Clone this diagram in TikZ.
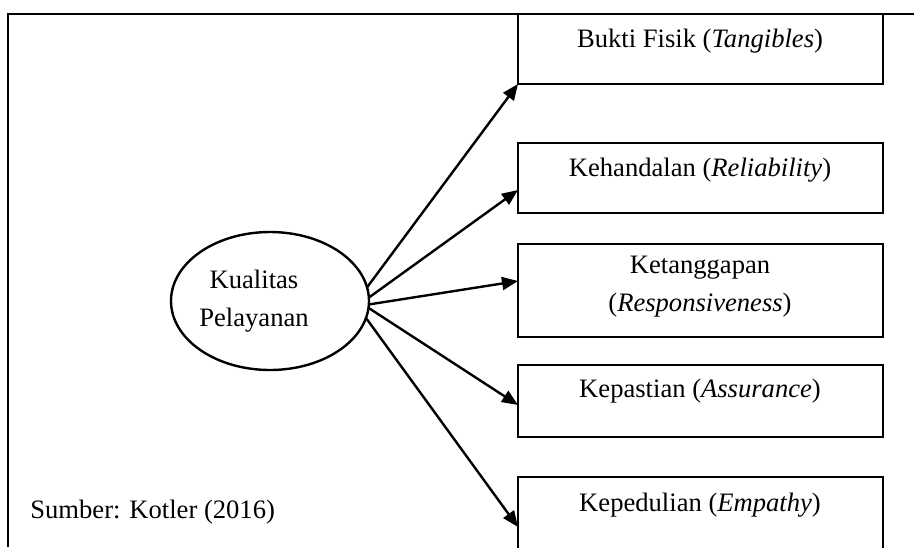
\documentclass[tikz,border=0pt]{standalone}
\usepackage{fontspec}
\setmainfont{Liberation Serif}
\usetikzlibrary{arrows.meta,calc,shapes.geometric}
\begin{document}
\begin{tikzpicture}[x=0.5pt,y=-0.5pt,
  box/.style={draw,line width=1.4pt,rectangle,inner sep=0pt,outer sep=0pt,
    anchor=north west,minimum width=182.5pt},
  lbl/.style={font=\fontsize{13.3}{19}\selectfont,align=center,inner sep=0pt},
  conn/.style={line width=1.2pt,-{Triangle[length=8pt,width=6.5pt]}},
]
\useasboundingbox (0,0) rectangle (914,547);
\clip (0,0) rectangle (914,547);
% outer frame (left and top edges)
\draw[line width=0.7pt] (8,547) -- (8,14) -- (914,14);
% dimension boxes
\node[box,minimum height=35pt] (b1) at (518,14) {};
\node[box,minimum height=35pt] (b2) at (518,143) {};
\node[box,minimum height=46.5pt] (b3) at (518,244) {};
\node[box,minimum height=36pt] (b4) at (518,365) {};
\node[box,minimum height=50pt] (b5) at (518,477) {};
% box texts
\node[lbl] (t1) at (700,41) {Bukti Fisik (\textit{Tangibles})};
\node[lbl] (t2) at (700,170) {Kehandalan (\textit{Reliability})};
\node[lbl] (t3) at (700,287) {Ketanggapan\\(\textit{Responsiveness})};
\node[lbl] (t4) at (700,391) {Kepastian (\textit{Assurance})};
\node[lbl] (t5) at (700,505) {Kepedulian (\textit{Empathy})};
% central construct
\node[draw,ellipse,line width=1.2pt,inner sep=0pt,outer sep=0pt,
  minimum width=99pt,minimum height=69pt] (kp) at (270,301) {};
\node[lbl] (tk) at (254,301) {Kualitas\\Pelayanan};
% connectors
\draw[conn] (kp.8) -- (b1.south west);
\draw[conn] (kp.2) -- ($(b2.north west)+(0,47)$);
\draw[conn] (kp.-2) -- ($(b3.north west)+(0,37)$);
\draw[conn] (kp.-4) -- ($(b4.north west)+(0,40)$);
\draw[conn] (kp.-10) -- ($(b5.north west)+(0,50)$);
% source note
\node[lbl,anchor=west] (src) at (30,512) {Sumber: Kotler (2016)};
\end{tikzpicture}
\end{document}
